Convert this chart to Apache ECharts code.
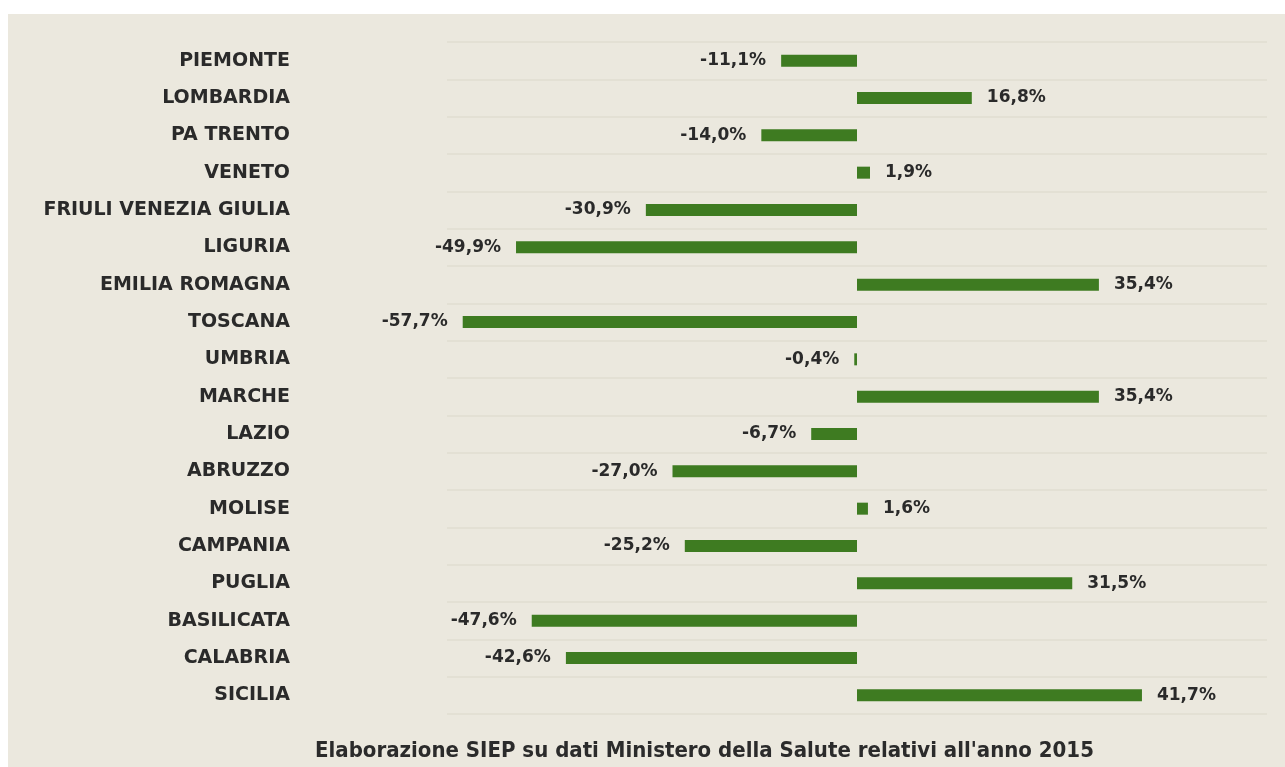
<!DOCTYPE html>
<html>
<head>
<meta charset="utf-8">
<script src="https://cdn.jsdelivr.net/npm/echarts@6/dist/echarts.min.js"></script>
<style>
  html, body { margin: 0; padding: 0; background: #ffffff; }
  #chart { position: absolute; left: 8px; top: 14px; width: 1277px; height: 753px; background: #ebe8de; }
</style>
</head>
<body>
<div id="chart"></div>
<script>
const regions = [
  'PIEMONTE', 'LOMBARDIA', 'PA TRENTO', 'VENETO', 'FRIULI VENEZIA GIULIA',
  'LIGURIA', 'EMILIA ROMAGNA', 'TOSCANA', 'UMBRIA', 'MARCHE', 'LAZIO',
  'ABRUZZO', 'MOLISE', 'CAMPANIA', 'PUGLIA', 'BASILICATA', 'CALABRIA', 'SICILIA'
];
const variation = [
  -11.1, 16.8, -14.0, 1.9, -30.9, -49.9, 35.4, -57.7, -0.4, 35.4, -6.7,
  -27.0, 1.6, -25.2, 31.5, -47.6, -42.6, 41.7
];
const caption = "Elaborazione SIEP su dati Ministero della Salute relativi all'anno 2015";

const font = '"DejaVu Sans", sans-serif';
const condensed = '"DejaVu Sans Condensed", "DejaVu Sans", sans-serif';
const fmt = v => v.toFixed(1).replace('.', ',') + '%';

const chart = echarts.init(document.getElementById('chart'));

chart.setOption({
  animation: false,
  textStyle: { fontFamily: font },
  title: {
    text: caption,
    left: 302,
    top: 721,
    textStyle: { fontFamily: condensed, fontSize: 22, fontWeight: 'bold', color: '#2b2b2b' }
  },
  grid: { left: 439, right: 18, top: 28, height: 672 },
  xAxis: {
    type: 'value',
    min: -60,
    max: 60,
    show: false
  },
  yAxis: {
    type: 'category',
    data: regions,
    inverse: true,
    axisLine: { show: false },
    axisTick: { show: false },
    splitLine: { show: true, lineStyle: { color: '#e3e0d4', width: 2 } },
    axisLabel: {
      margin: 157,
      fontFamily: font,
      fontSize: 19,
      fontWeight: 'bold',
      color: '#2a2a2a'
    }
  },
  series: [{
    type: 'bar',
    barWidth: 12,
    itemStyle: { color: '#3e7b21' },
    data: variation.map(v => ({
      value: v,
      label: {
        show: true,
        position: v < 0 ? 'left' : 'right',
        distance: 15,
        formatter: fmt(v),
        fontFamily: font,
        fontSize: 17,
        fontWeight: 'bold',
        color: '#2a2a2a'
      }
    }))
  }]
});
</script>
</body>
</html>
